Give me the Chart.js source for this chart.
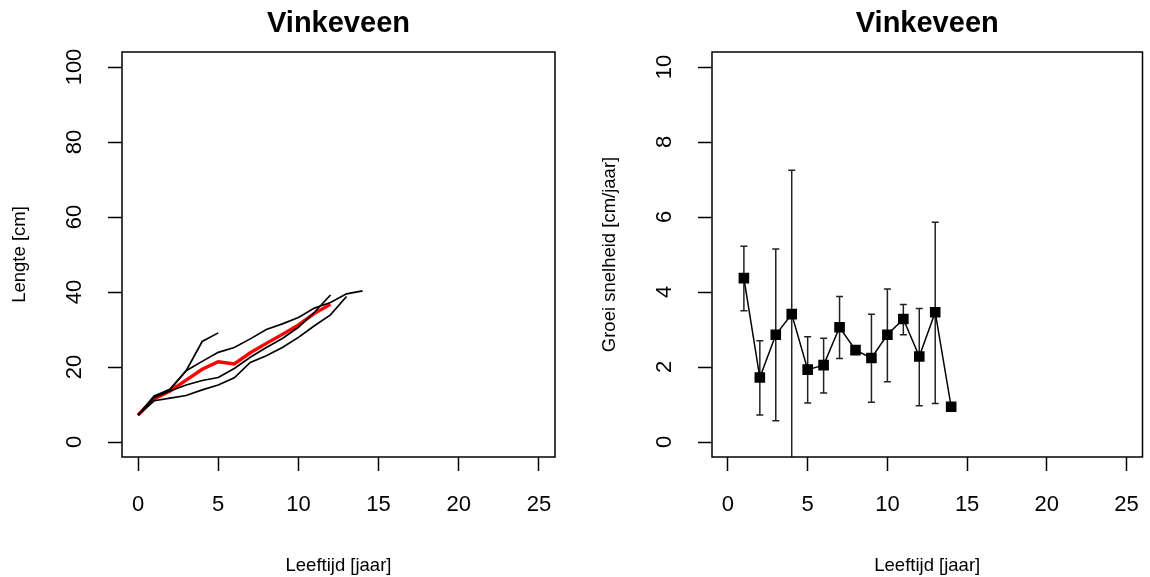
<!DOCTYPE html>
<html><head><meta charset="utf-8">
<script src="https://cdn.jsdelivr.net/npm/chart.js@4/dist/chart.umd.min.js"></script>
<style>
html,body{margin:0;padding:0;background:#fff;}
#wrap{position:relative;width:1150px;height:577px;overflow:hidden;}
.panel{position:absolute;top:0;width:575px;height:577px;}
</style></head><body>
<div id="wrap">
<div class="panel" style="left:0"><canvas id="c1" width="575" height="577"></canvas></div>
<div class="panel" style="left:575px"><canvas id="c2" width="575" height="577"></canvas></div>
</div>
<script>
const FONT = '"Liberation Sans", Arial, Helvetica, sans-serif';
const panelTitle = 'Vinkeveen';
const xTitle = 'Leeftijd [jaar]';
const yTitleLength = 'Lengte [cm]';
const yTitleGrowth = 'Groei snelheid [cm/jaar]';
const xTicks = [0, 5, 10, 15, 20, 25];
const yTicksLength = [0, 20, 40, 60, 80, 100];
const yTicksGrowth = [0, 2, 4, 6, 8, 10];

// Left panel: back-calculated length per fish (ages 0..n)
const ages = [0, 1, 2, 3, 4, 5, 6, 7, 8, 9, 10, 11, 12, 13, 14];
const fishA = [7.2, 12.0, 14.1, 19.0, 26.8, 29.1];
const fishB = [7.2, 12.3, 14.0, 19.0, 21.5, 23.9, 25.2, 27.5, 30.0, 31.5, 33.2, 35.7, 37.2, 39.5, 40.3];
const fishC = [7.2, 11.8, 13.6, 15.2, 16.4, 17.2, 19.6, 22.6, 25.2, 27.6, 30.6, 34.6, 39.2];
const fishD = [7.2, 11.0, 11.7, 12.4, 13.9, 15.2, 17.1, 21.2, 23.0, 25.2, 27.9, 31.0, 33.9, 38.8];
const meanLength = [7.2, 11.5, 13.6, 16.5, 19.4, 21.4, 20.8, 23.8, 26.3, 28.7, 31.2, 34.3, 36.7];

// Right panel: growth rate per age with error bars
const growthAges = [1, 2, 3, 4, 5, 6, 7, 8, 9, 10, 11, 12, 13, 14];
const growthMean = [4.37, 1.72, 2.86, 3.41, 1.93, 2.05, 3.06, 2.45, 2.24, 2.86, 3.28, 2.28, 3.46, 0.94];
const growthUpper = [5.22, 2.70, 5.15, 7.25, 2.81, 2.77, 3.88, null, 3.41, 4.08, 3.67, 3.56, 5.86, null];
const growthLower = [3.50, 0.72, 0.57, -0.43, 1.04, 1.31, 2.23, null, 1.06, 1.61, 2.86, 0.97, 1.03, null];

function series(xs, ys) { return ys.map((v, i) => ({ x: xs[i], y: v })); }

function makeChart(id, cfg) {
  const rPlugin = {
    id: 'rstyle',
    beforeDatasetsDraw(chart) {
      if (!cfg.errors) return;
      const { ctx, chartArea: a, scales: { x, y } } = chart;
      ctx.save();
      ctx.beginPath(); ctx.rect(a.left, a.top, a.right - a.left, a.bottom - a.top); ctx.clip();
      ctx.strokeStyle = '#222'; ctx.lineWidth = 1.5;
      cfg.errors.x.forEach((xv, i) => {
        const lo = cfg.errors.lo[i], hi = cfg.errors.hi[i];
        if (lo == null || hi == null) return;
        const px = x.getPixelForValue(xv);
        const pl = y.getPixelForValue(lo), ph = y.getPixelForValue(hi);
        ctx.beginPath();
        ctx.moveTo(px, pl); ctx.lineTo(px, ph);
        ctx.moveTo(px - 3.5, pl); ctx.lineTo(px + 3.5, pl);
        ctx.moveTo(px - 3.5, ph); ctx.lineTo(px + 3.5, ph);
        ctx.stroke();
      });
      ctx.restore();
    },
    afterDraw(chart) {
      const { ctx, chartArea: a } = chart;
      ctx.save();
      ctx.strokeStyle = '#000'; ctx.lineWidth = 1.5;
      ctx.strokeRect(a.left, a.top, a.right - a.left, a.bottom - a.top);
      ctx.fillStyle = '#000';
      ctx.textAlign = 'center';
      ctx.textBaseline = 'alphabetic';
      ctx.font = 'bold 29px ' + FONT;
      ctx.fillText(panelTitle, (a.left + a.right) / 2, 32);
      const ys = chart.scales.y;
      ctx.font = '22px ' + FONT;
      ctx.textBaseline = 'middle';
      cfg.yTicks.forEach(v => {
        const py = ys.getPixelForValue(v);
        ctx.save();
        ctx.translate(a.left - 47, py);
        ctx.rotate(-Math.PI / 2);
        ctx.fillText(String(v), 0, 0);
        ctx.restore();
      });
      ctx.restore();
    }
  };
  const gridOpts = { display: true, drawOnChartArea: false, drawTicks: true, tickLength: 14, tickColor: '#000', tickWidth: 1.5, color: '#000' };
  return new Chart(document.getElementById(id), {
    type: 'line',
    data: { datasets: cfg.datasets },
    options: {
      responsive: false, animation: false, devicePixelRatio: 1,
      layout: { padding: { top: 52, right: cfg.padRight, left: 0, bottom: 0 } },
      plugins: { legend: { display: false }, tooltip: { enabled: false } },
      scales: {
        x: {
          type: 'linear', min: -1, max: 26,
          afterBuildTicks: s => { s.ticks = xTicks.map(v => ({ value: v })); },
          afterFit: s => { s.height = 120; s.paddingLeft = 0; s.paddingRight = 0; },
          grid: gridOpts, border: { display: false },
          ticks: { color: '#000', font: { family: FONT, size: 22 }, padding: 21, maxRotation: 0, autoSkip: false, callback: v => String(v) },
          title: { display: true, text: xTitle, color: '#000', font: { family: FONT, size: 18.5 }, padding: { top: 0, bottom: 0 } }
        },
        y: {
          type: 'linear', min: cfg.yMin, max: cfg.yMax,
          afterBuildTicks: s => { s.ticks = cfg.yTicks.map(v => ({ value: v })); },
          afterFit: s => { s.width = cfg.yWidth; s.paddingTop = 0; s.paddingBottom = 0; },
          grid: gridOpts, border: { display: false },
          ticks: { display: false },
          title: { display: true, text: cfg.yTitle, color: '#000', font: { family: FONT, size: 18.5 }, padding: { top: cfg.yTitlePad, bottom: 0 } }
        }
      }
    },
    plugins: [rPlugin]
  });
}

const blackLine = { borderColor: '#000', borderWidth: 1.7, pointRadius: 0, fill: false, tension: 0 };
makeChart('c1', {
  yMin: -4, yMax: 104, yTicks: yTicksLength, yTitle: yTitleLength, yWidth: 122, padRight: 20, yTitlePad: 9,
  datasets: [
    Object.assign({ data: series(ages, fishA) }, blackLine),
    Object.assign({ data: series(ages, fishB) }, blackLine),
    Object.assign({ data: series(ages, fishC) }, blackLine),
    Object.assign({ data: series(ages, fishD) }, blackLine),
    { data: series(ages, meanLength), borderColor: '#ff0000', borderWidth: 3.4, pointRadius: 0, fill: false, tension: 0 }
  ]
});

makeChart('c2', {
  yMin: -0.4, yMax: 10.4, yTicks: yTicksGrowth, yTitle: yTitleGrowth, yWidth: 137, padRight: 5, yTitlePad: 24,
  errors: { x: growthAges, lo: growthLower, hi: growthUpper },
  datasets: [
    { data: series(growthAges, growthMean), borderColor: '#000', borderWidth: 1.5, pointStyle: 'rect', pointRadius: 7.5,
      pointBackgroundColor: '#000', pointBorderColor: '#000', pointBorderWidth: 0, fill: false, tension: 0 }
  ]
});
</script>
</body></html>
